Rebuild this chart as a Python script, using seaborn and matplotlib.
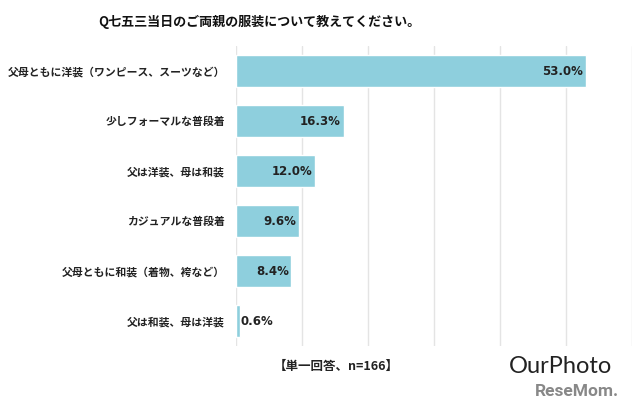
import matplotlib.pyplot as plt
import pandas as pd
import seaborn as sns

sns.set_theme(style="white")
plt.rcParams["font.family"] = ["Noto Sans CJK JP", "DejaVu Sans"]

categories = [
    "父母ともに洋装（ワンピース、スーツなど）",
    "少しフォーマルな普段着",
    "父は洋装、母は和装",
    "カジュアルな普段着",
    "父母ともに和装（着物、袴など）",
    "父は和装、母は洋装",
]
values = [53.0, 16.3, 12.0, 9.6, 8.4, 0.6]
title = "Q七五三当日のご両親の服装について教えてください。"
note = "【単一回答、n=166】"

df = pd.DataFrame({"item": categories, "pct": values})

fig = plt.figure(figsize=(6.4, 4.16), dpi=100)
ax = fig.add_axes([0.36875, 0.168, 0.61875, 0.721])

sns.barplot(data=df, y="item", x="pct", orient="h", color="#8ECFDD",
            saturation=1, width=0.64, ax=ax)

ax.set_xlim(0, 60)
ax.set_xticks(range(0, 61, 10))
ax.set_xticklabels([])
ax.tick_params(axis="x", length=0)
ax.tick_params(axis="y", length=0, pad=8)
ax.grid(axis="x", color="#e4e4e4", linewidth=1)
ax.set_axisbelow(True)
for s in ax.spines.values():
    s.set_visible(False)
ax.set_xlabel("")
ax.set_ylabel("")
for lbl in ax.get_yticklabels():
    lbl.set_fontsize(7.8)
    lbl.set_fontweight("bold")
    lbl.set_color("#222222")

for i, v in enumerate(values):
    txt = f"{v:.1f}%"
    if v < 3:
        ax.text(v + 0.1, i, txt, ha="left", va="center", fontsize=8.5,
                fontweight="bold", color="#222222", family=["DejaVu Sans"])
    else:
        ax.text(v - 0.4, i, txt, ha="right", va="center", fontsize=8.5,
                fontweight="bold", color="#222222", family=["DejaVu Sans"])

fig.text(0.405, 0.947, title, ha="center", va="center", fontsize=9.4,
         fontweight="bold", color="#111111")
fig.text(0.428, 0.118, note, ha="left", va="center", fontsize=9,
         fontweight="bold", color="#222222")
fig.text(0.875, 0.118, "OurPhoto", ha="center", va="center", fontsize=17,
         color="#222222", family=["Lato", "DejaVu Sans"])
fig.text(0.902, 0.06, "ReseMom.", ha="center", va="center", fontsize=12.5,
         fontweight="bold", color="#888888", family=["Roboto", "DejaVu Sans"])

plt.savefig("out.png", dpi=100)
plt.close()
